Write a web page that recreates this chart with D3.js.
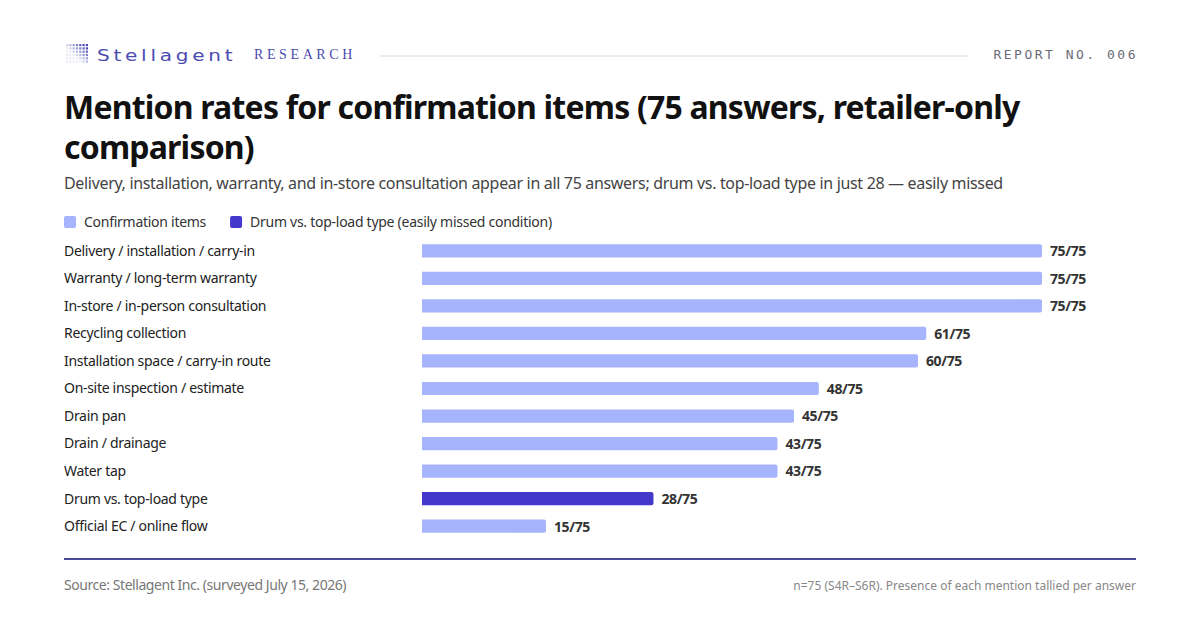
<!DOCTYPE html>
<html>
<head>
<meta charset="utf-8">
<script src="https://cdn.jsdelivr.net/npm/d3@7"></script>
<style>
  html, body { margin: 0; padding: 0; background: #fff; }
  svg { display: block; font-family: "Source Sans Pro", "Noto Sans", Lato, sans-serif; }
</style>
</head>
<body>
<div id="chart"></div>
<script>
const categories = [
  'Delivery / installation / carry-in',
  'Warranty / long-term warranty',
  'In-store / in-person consultation',
  'Recycling collection',
  'Installation space / carry-in route',
  'On-site inspection / estimate',
  'Drain pan',
  'Drain / drainage',
  'Water tap',
  'Drum vs. top-load type',
  'Official EC / online flow'
];
const mentions = [75, 75, 75, 61, 60, 48, 45, 43, 43, 28, 15];
const highlighted = ['Drum vs. top-load type'];
const totalAnswers = 75;
const legendLabels = ['Confirmation items', 'Drum vs. top-load type (easily missed condition)'];

const width = 1200, height = 630;
const colors = { base: '#a5b4fc', accent: '#4338ca' };
const margin = { left: 64, right: 64 };

const svg = d3.select('#chart').append('svg')
  .attr('width', width)
  .attr('height', height)
  .attr('viewBox', `0 0 ${width} ${height}`);

// Header: logo dot grid, strongest top-right
const logo = svg.append('g').attr('transform', 'translate(66, 44)');
d3.range(6).forEach(r => {
  d3.range(7).forEach(c => {
    const s = Math.max(0, Math.min(1, (c - 2 + (3 - r)) / 6));
    logo.append('rect')
      .attr('x', c * 3.3).attr('y', r * 3.3)
      .attr('width', 2.2).attr('height', 2.2)
      .attr('fill', '#4a4ab8')
      .attr('opacity', 0.1 + 0.9 * s);
  });
});

svg.append('text')
  .attr('transform', 'translate(97, 61) scale(1.25, 1)')
  .attr('font-family', '"DejaVu Sans", sans-serif')
  .attr('font-size', 16)
  .attr('letter-spacing', 3)
  .attr('fill', '#4a4ab0')
  .text('Stellagent');

svg.append('text')
  .attr('x', 254).attr('y', 59)
  .attr('font-family', '"Liberation Serif", serif')
  .attr('font-size', 14)
  .attr('letter-spacing', 3.6)
  .attr('fill', '#4a4ab0')
  .text('RESEARCH');

svg.append('line')
  .attr('x1', 380).attr('x2', 968)
  .attr('y1', 56).attr('y2', 56)
  .attr('stroke', '#d4d4e4').attr('stroke-width', 1);

svg.append('text')
  .attr('x', 1138).attr('y', 59)
  .attr('text-anchor', 'end')
  .attr('font-family', '"DejaVu Sans Mono", "Liberation Mono", monospace')
  .attr('font-size', 13)
  .attr('letter-spacing', 2.5)
  .attr('fill', '#6b6b78')
  .text('REPORT NO. 006');

// Title
const title = svg.append('text')
  .attr('x', margin.left).attr('y', 119)
  .attr('font-size', 32).attr('font-weight', 700)
  .attr('letter-spacing', -0.8)
  .attr('fill', '#111');
title.append('tspan').attr('x', margin.left).text('Mention rates for confirmation items (75 answers, retailer-only');
title.append('tspan').attr('x', margin.left).attr('dy', 40).text('comparison)');

svg.append('text')
  .attr('x', margin.left).attr('y', 189)
  .attr('font-size', 16).attr('fill', '#444')
  .attr('letter-spacing', -0.33)
  .text('Delivery, installation, warranty, and in-store consultation appear in all 75 answers; drum vs. top-load type in just 28 \u2014 easily missed');

// Legend
const legend = svg.append('g').attr('transform', 'translate(64, 216)');
let lx = 0;
legendLabels.forEach((label, i) => {
  const g = legend.append('g').attr('transform', `translate(${lx}, 0)`);
  g.append('rect').attr('width', 12).attr('height', 12).attr('rx', 2)
    .attr('fill', i === 0 ? colors.base : colors.accent);
  const t = g.append('text').attr('x', 20).attr('y', 11)
    .attr('font-size', 14).attr('letter-spacing', -0.27)
    .attr('fill', '#333').text(label);
  lx += 20 + t.node().getComputedTextLength() + 24;
});

// Bars
const x = d3.scaleLinear().domain([0, totalAnswers]).range([422, 1042]);
const y = d3.scaleBand().domain(categories).range([237, 540]).paddingInner(0.52).paddingOuter(0.26);

const rows = svg.append('g');
const data = categories.map((c, i) => ({ name: c, value: mentions[i] }));

rows.selectAll('.cat-label')
  .data(data)
  .join('text')
  .attr('class', 'cat-label')
  .attr('x', margin.left)
  .attr('y', d => y(d.name) + y.bandwidth() / 2)
  .attr('dy', '0.35em')
  .attr('font-size', 14)
  .attr('letter-spacing', -0.3)
  .attr('fill', '#222')
  .text(d => d.name);

const barPath = (d) => {
  const x0 = x(0), x1 = x(d.value), y0 = y(d.name), h = y.bandwidth(), r = 2;
  return `M${x0},${y0}H${x1 - r}Q${x1},${y0} ${x1},${y0 + r}V${y0 + h - r}Q${x1},${y0 + h} ${x1 - r},${y0 + h}H${x0}Z`;
};

rows.selectAll('.bar')
  .data(data)
  .join('path')
  .attr('class', 'bar')
  .attr('d', barPath)
  .attr('fill', d => highlighted.includes(d.name) ? colors.accent : colors.base);

rows.selectAll('.val-label')
  .data(data)
  .join('text')
  .attr('class', 'val-label')
  .attr('x', d => x(d.value) + 8)
  .attr('y', d => y(d.name) + y.bandwidth() / 2)
  .attr('dy', '0.38em')
  .attr('font-size', 14)
  .attr('font-weight', 700)
  .attr('letter-spacing', -0.4)
  .attr('fill', '#333')
  .text(d => `${d.value}/${totalAnswers}`);

// Footer
svg.append('line')
  .attr('x1', margin.left).attr('x2', width - margin.right)
  .attr('y1', 559).attr('y2', 559)
  .attr('stroke', '#4a4a9a').attr('stroke-width', 2);

svg.append('text')
  .attr('x', margin.left).attr('y', 590)
  .attr('font-size', 14).attr('fill', '#777')
  .attr('letter-spacing', -0.44)
  .text('Source: Stellagent Inc. (surveyed July 15, 2026)');

svg.append('text')
  .attr('x', width - margin.right).attr('y', 590)
  .attr('text-anchor', 'end')
  .attr('font-size', 12).attr('fill', '#888')
  .text('n=75 (S4R\u2013S6R). Presence of each mention tallied per answer');
</script>
</body>
</html>
